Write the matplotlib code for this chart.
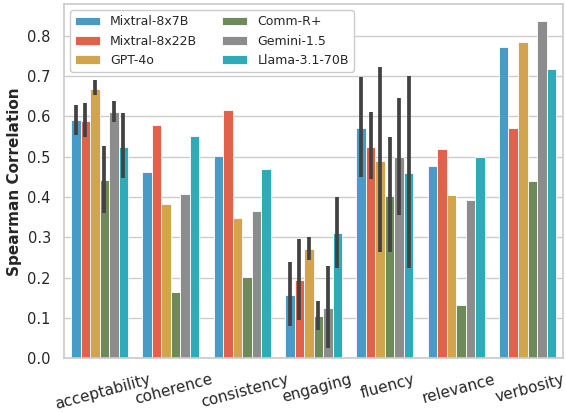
import numpy as np
import matplotlib
matplotlib.use("Agg")
import matplotlib.pyplot as plt
import matplotlib.transforms as mtransforms
import seaborn as sns

categories = ["acceptability", "coherence", "consistency", "engaging", "fluency", "relevance", "verbosity"]
models = ["Mixtral-8x7B", "Mixtral-8x22B", "GPT-4o", "Comm-R+", "Gemini-1.5", "Llama-3.1-70B"]

mixtral_8x7b = [0.590, 0.461, 0.502, 0.157, 0.571, 0.478, 0.772]
mixtral_8x22b = [0.588, 0.579, 0.615, 0.195, 0.523, 0.520, 0.570]
gpt_4o = [0.668, 0.383, 0.348, 0.270, 0.490, 0.405, 0.785]
comm_r_plus = [0.442, 0.165, 0.202, 0.104, 0.403, 0.133, 0.440]
gemini_15 = [0.610, 0.407, 0.365, 0.126, 0.499, 0.393, 0.836]
llama_31_70b = [0.525, 0.552, 0.469, 0.310, 0.459, 0.498, 0.718]

# confidence intervals (None = no error bar)
ci_low_8x7b = [0.553, None, None, 0.080, 0.450, None, None]
ci_high_8x7b = [0.629, None, None, 0.239, 0.697, None, None]
ci_low_8x22b = [0.548, None, None, 0.096, 0.444, None, None]
ci_high_8x22b = [0.632, None, None, 0.296, 0.610, None, None]
ci_low_gpt4o = [0.654, None, None, 0.243, 0.264, None, None]
ci_high_gpt4o = [0.691, None, None, 0.301, 0.722, None, None]
ci_low_commr = [0.361, None, None, 0.071, 0.264, None, None]
ci_high_commr = [0.527, None, None, 0.142, 0.548, None, None]
ci_low_gemini = [0.587, None, None, 0.026, 0.356, None, None]
ci_high_gemini = [0.637, None, None, 0.229, 0.645, None, None]
ci_low_llama = [0.447, None, None, 0.224, 0.225, None, None]
ci_high_llama = [0.608, None, None, 0.399, 0.699, None, None]

colors = ["#489bc6", "#e2614b", "#d0a54e", "#6e8a58", "#8c8c8c", "#2eabb9"]

series = [mixtral_8x7b, mixtral_8x22b, gpt_4o, comm_r_plus, gemini_15, llama_31_70b]
lows = [ci_low_8x7b, ci_low_8x22b, ci_low_gpt4o, ci_low_commr, ci_low_gemini, ci_low_llama]
highs = [ci_high_8x7b, ci_high_8x22b, ci_high_gpt4o, ci_high_commr, ci_high_gemini, ci_high_llama]

sns.set_theme(style="whitegrid")
plt.rcParams['font.family'] = ['DejaVu Sans']

fig, ax = plt.subplots(figsize=(5.66, 4.12), dpi=100)
x = np.arange(len(categories))
n = len(models)
w = 0.8 / n
for i, (name, vals, lo, hi, c) in enumerate(zip(models, series, lows, highs, colors)):
    pos = x - 0.4 + w * (i + 0.5)
    ax.bar(pos, vals, width=w, color=c, edgecolor="white", linewidth=0.6, label=name, zorder=2)
    for p, l, h in zip(pos, lo, hi):
        if l is not None:
            ax.plot([p, p], [l, h], color="#424242", linewidth=2.7, solid_capstyle="butt", zorder=3)

ax.set_xlim(-0.5, len(categories) - 0.5)
ax.set_ylim(0, 0.878)
ax.set_yticks(np.arange(0, 0.81, 0.1))
ax.set_xticks(x)
ax.set_xticklabels(categories, rotation=15, fontsize=11)
offset = mtransforms.ScaledTranslation(3 / 100, 0, fig.dpi_scale_trans)
for lab in ax.get_xticklabels():
    lab.set_transform(lab.get_transform() + offset)
ax.tick_params(axis="y", labelsize=10.5)
ax.grid(axis="x", visible=False)
ax.set_ylabel("Spearman Correlation", fontsize=11, fontweight="bold")
ax.legend(ncol=2, loc="upper left", fontsize=9, framealpha=1)

fig.subplots_adjust(left=0.113, right=0.995, top=0.99, bottom=0.13)
fig.savefig("out.png", dpi=100)
